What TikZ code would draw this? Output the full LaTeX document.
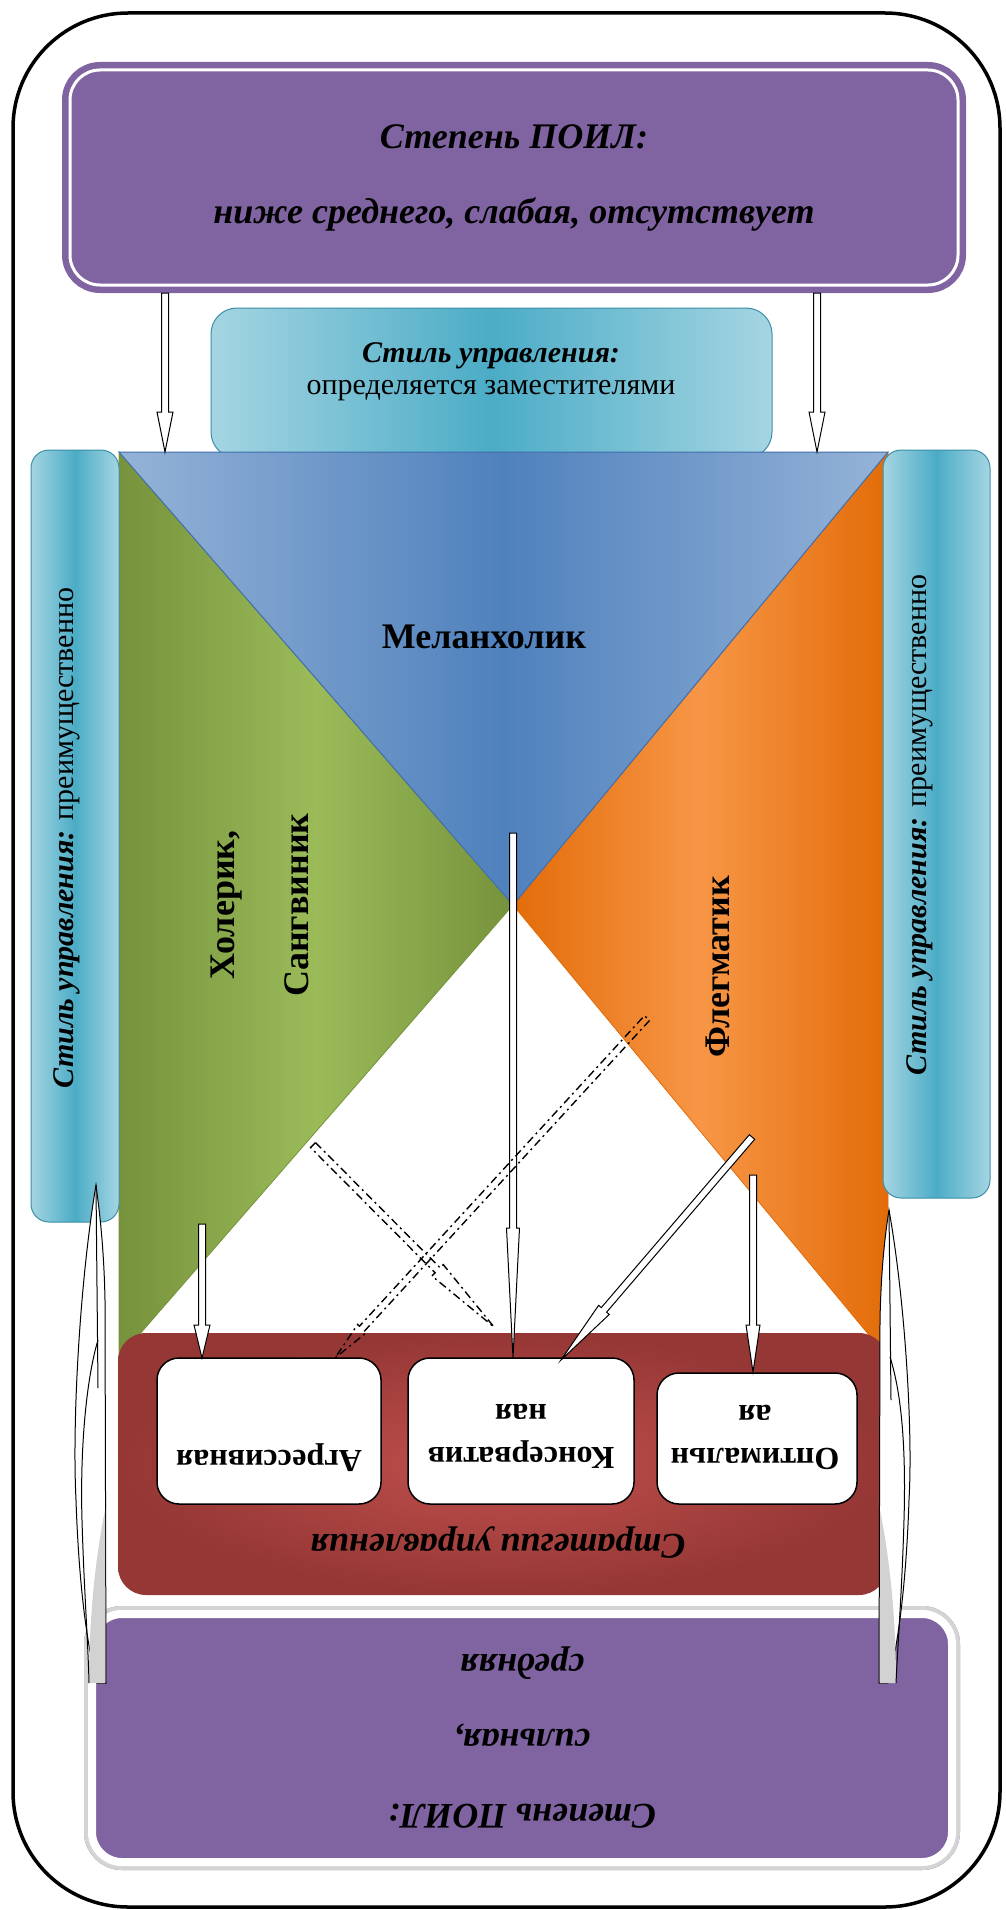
\documentclass[tikz,border=0pt]{standalone}
\usepackage{fontspec}
\setmainfont{Liberation Serif}
\usetikzlibrary{calc,positioning}
\definecolor{poil}{HTML}{8064A2}
\definecolor{teallight}{HTML}{A5D5E2}
\definecolor{tealmid}{HTML}{4BACC6}
\definecolor{tealedge}{HTML}{3C8FA6}
\definecolor{mellight}{HTML}{95B3D7}
\definecolor{melmid}{HTML}{4F81BD}
\definecolor{meledge}{HTML}{3F6FAE}
\definecolor{holdark}{HTML}{76923C}
\definecolor{hollight}{HTML}{9BBB59}
\definecolor{flegdark}{HTML}{E36C09}
\definecolor{fleglight}{HTML}{F79646}
\definecolor{stratdark}{HTML}{953735}
\definecolor{stratlight}{HTML}{C0504D}
\definecolor{framegrey}{HTML}{D4D4D4}
\tikzset{
  poilbox/.style={rectangle,rounded corners=30pt,fill=poil,draw=white,line width=3pt,
    preaction={draw=poil,line width=16pt},align=center,inner sep=0pt,outer sep=0pt,
    font=\fontsize{36}{75}\selectfont\bfseries\itshape},
  stylebox/.style={rectangle,rounded corners=26pt,left color=teallight,right color=teallight,
    middle color=tealmid,draw=tealedge,line width=1pt,inner sep=0pt,outer sep=0pt},
  styletext/.style={align=center,inner sep=0pt,font=\fontsize{30}{32}\selectfont},
  temper/.style={align=center,inner sep=0pt,font=\fontsize{36}{74}\selectfont\bfseries},
  stratbox/.style={rectangle,rounded corners=28pt,inner color=stratlight,outer color=stratdark,
    inner sep=0pt,outer sep=0pt},
  choice/.style={rectangle,rounded corners=22pt,fill=white,draw=black,line width=1.5pt,
    inner sep=0pt,outer sep=0pt},
  choicetext/.style={align=center,inner sep=0pt,rotate=180,
    font=\fontsize{32}{43}\selectfont\bfseries},
  hollow/.style={draw=black,fill=white,line width=1pt,line join=miter},
  dashdot/.style={hollow,fill=none,line width=1.4pt,dash pattern=on 8pt off 4pt on 2pt off 4pt}
}
% hollow block arrow: [style]{from}{to}{head length}{head half width}
\newcommand{\hollowarrow}[5][]{%
  \coordinate (hb) at ($(#3)!#4!(#2)$);
  \draw[hollow,#1] ($(#2)!3.5pt!90:(#3)$) -- ($(hb)!3.5pt!-90:(#2)$)
    -- ($(hb)!#5!-90:(#2)$) -- (#3) -- ($(hb)!#5!90:(#2)$)
    -- ($(hb)!3.5pt!90:(#2)$) -- ($(#2)!3.5pt!-90:(#3)$) -- cycle;
}
\begin{document}
\begin{tikzpicture}[x=1pt,y=-1pt]
  \useasboundingbox (0,0) rectangle (1005,1910);
  \draw[line width=3.5pt,rounded corners=115pt] (13,13) rectangle (1000,1907);

  % upper degree and management style
  \node[poilbox,minimum width=888pt,minimum height=215pt] (poilTop) at (514,177.5)
    {Степень ПОИЛ:\\ниже среднего, слабая, отсутствует};
  \node[stylebox,minimum width=561pt,minimum height=150pt] (styleTop) at (491.5,383) {};
  \node[styletext] (styleTopT) at (491,372)
    {{\bfseries\itshape Стиль управления:}\\определяется заместителями};

  % temperaments
  \shadedraw[left color=holdark,right color=holdark,middle color=hollight,draw=holdark,line width=.8pt]
    (119,452) -- (513,905) -- (119,1358) -- cycle;
  \shadedraw[left color=flegdark,right color=flegdark,middle color=fleglight,draw=flegdark,line width=.8pt]
    (888,452) -- (513,905) -- (888,1358) -- cycle;
  \shadedraw[left color=mellight,right color=mellight,middle color=melmid,draw=meledge,line width=1pt]
    (119,452) -- (888,452) -- (513,905) -- cycle;
  \node[temper] (melan) at (484,637) {Меланхолик};
  \node[temper,rotate=90] (holer) at (260,905) {Холерик,\\Сангвиник};
  \node[temper,rotate=90] (flegm) at (718,967) {Флегматик};

  % side styles
  \node[stylebox,rounded corners=18pt,minimum width=88pt,minimum height=772pt] (styleL) at (75,836) {};
  \node[styletext,rotate=90] (styleLT) at (67,838)
    {{\bfseries\itshape Стиль управления:} преимущественно};
  \node[stylebox,rounded corners=18pt,minimum width=107pt,minimum height=748pt] (styleR) at (936.5,824) {};
  \node[styletext,rotate=90] (styleRT) at (920,825)
    {{\bfseries\itshape Стиль управления:} преимущественно};

  % strategies
  \node[stratbox,minimum width=769pt,minimum height=262pt] (strat) at (502.5,1464) {};
  \node[choice,minimum width=224pt,minimum height=146pt] (aggr) at (269,1431) {};
  \node[choice,minimum width=226pt,minimum height=146pt] (cons) at (521,1431) {};
  \node[choice,minimum width=200pt,minimum height=131pt] (optim) at (757,1438.5) {};
  \node[choicetext] (aggrT) at (269,1458) {Агрессивная};
  \node[choicetext] (consT) at (521,1436.5) {Консерватив\\ная};
  \node[choicetext] (optimT) at (755,1437) {Оптимальн\\ая};
  \node[choicetext,font=\fontsize{36}{40}\selectfont\bfseries\itshape] (stratT) at (498,1543)
    {Стратегии управления};

  % lower degree
  \node[poilbox,draw=white,line width=8pt,preaction={draw=framegrey,line width=16pt},
    rotate=180,minimum width=860pt,minimum height=248pt] (poilBot) at (522,1738)
    {Степень ПОИЛ:\\сильная,\\средняя};

  % curved arrows at the sides
  \filldraw[hollow] (96,1185) .. controls (80,1280) and (72,1420) .. (76,1500)
    .. controls (79,1590) and (88,1650) .. (97,1683) -- (106,1683) -- (105,1300)
    .. controls (104,1250) and (100,1215) .. cycle;
  \fill[gray!35] (105,1510) .. controls (95,1560) and (89,1620) .. (89,1683) -- (105,1683) -- cycle;
  \draw[line width=1pt] (96,1185) -- (98,1388);
  \draw[line width=1pt] (98,1340) .. controls (86,1380) and (80,1450) .. (82,1520)
    .. controls (84,1590) and (88,1640) .. (89,1683);
  \filldraw[hollow] (889,1210) .. controls (905,1300) and (913,1430) .. (909,1500)
    .. controls (906,1590) and (897,1650) .. (888,1683) -- (879,1683) -- (880,1320)
    .. controls (881,1270) and (885,1235) .. cycle;
  \fill[gray!35] (880,1510) .. controls (890,1560) and (896,1620) .. (896,1683) -- (880,1683) -- cycle;
  \draw[line width=1pt] (889,1210) -- (891,1400);
  \draw[line width=1pt] (890,1357) .. controls (902,1395) and (906,1450) .. (904,1520)
    .. controls (902,1590) and (898,1640) .. (896,1683);

  % connectors
  \coordinate (lTop) at (165,293);  \coordinate (lTri) at (165,452);
  \coordinate (rTop) at (817,293);  \coordinate (rTri) at (817,452);
  \coordinate (melSrc) at (513,833); \coordinate (consIn) at (513,1358);
  \coordinate (flegSrc) at (752,1137); \coordinate (consIn2) at (561,1360);
  \coordinate (flegSrc2) at (753,1175); \coordinate (optimIn) at (753,1372);
  \coordinate (holSrc) at (202,1224); \coordinate (aggrIn) at (202,1358);
  \coordinate (dashA1) at (647,1018); \coordinate (dashA2) at (335,1358);
  \coordinate (dashB1) at (313,1145); \coordinate (dashB2) at (494,1327);
  \hollowarrow{lTop}{lTri}{40pt}{8pt}
  \hollowarrow{rTop}{rTri}{40pt}{8pt}
  \hollowarrow{melSrc}{consIn}{130pt}{6.5pt}
  \hollowarrow{flegSrc}{consIn2}{66pt}{7pt}
  \hollowarrow{flegSrc2}{optimIn}{47pt}{7pt}
  \hollowarrow{holSrc}{aggrIn}{33pt}{8pt}
  \hollowarrow[dashdot]{dashA1}{dashA2}{40pt}{6pt}
  \hollowarrow[dashdot]{dashB1}{dashB2}{80pt}{8pt}
\end{tikzpicture}
\end{document}
